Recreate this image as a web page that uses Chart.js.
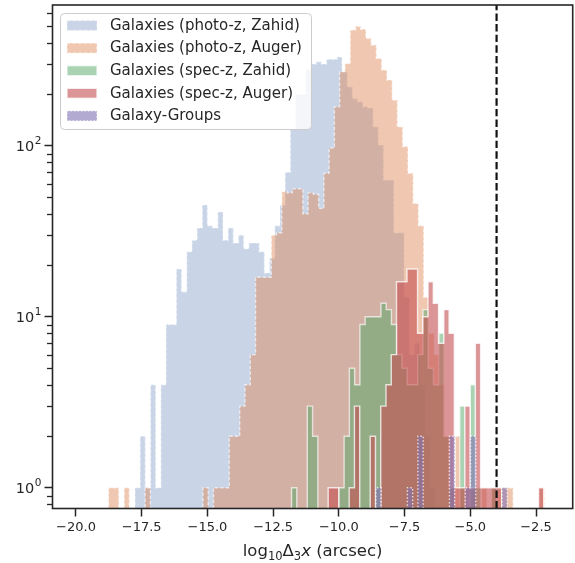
<!DOCTYPE html>
<html><head><meta charset="utf-8">
<script src="https://cdn.jsdelivr.net/npm/chart.js@4/dist/chart.umd.min.js"></script>
<style>html,body{margin:0;padding:0;background:#fff;}canvas{display:block;}</style>
</head><body>
<canvas id="c" width="575" height="563"></canvas>
<script>
// ---------------- data ----------------
const xTicks = [-20, -17.5, -15, -12.5, -10, -7.5, -5, -2.5];
const yTicks = [1, 10, 100];
const yTickExponents = ['0', '1', '2'];
// x-axis title pieces: [text, style] (style: n = normal, s = subscript, i = italic)
const xAxisTitleParts = [['log', 'n'], ['10', 's'], ['\u0394', 'n'], ['3', 's'], ['x', 'i'], [' (arcsec)', 'n']];
const seriesLabels = ['Galaxies (photo-z, Zahid)', 'Galaxies (photo-z, Auger)',
  'Galaxies (spec-z, Zahid)', 'Galaxies (spec-z, Auger)', 'Galaxy-Groups'];

const photoZahidStart = -17.757, photoZahidWidth = 0.197;
const photoZahidCounts = [1,2,1,4,1,4,9,9,19,14,24,28,33,45,34,33,41,28,33,27,30,25,27,27,24,
  18,22,34,45,70,125,200,200,280,300,310,300,320,320,330,271,221,189,181,169,166,129,101,63,63,
  31,31,13,6,7,4,2,1];

const photoAugerStart = -18.77, photoAugerWidth = 0.2;
const photoAugerCounts = [1,1,0,1,0,0,0,1,0,0,0,0,0,0,0,0,0,0,1,0,1,1,1,2,2,3,4,6,17,17,17,30,31,
  54,53,56,56,40,53,52,43,69,97,169,271,302,475,500,480,425,388,324,277,242,185,129,99,69,46,34,
  13,8,6,4,2,1,2,1,1,1,0,1,0,1,1,1,1,0,0,0,0,0,1];

const specZahidStart = -11.80, specZahidWidth = 0.2;
const specZahidCounts = [1,0,0,3,2,0,0,0,0,1,2,5,4,9,10,10,10,12,11,9,6,5,4,4,6,11,5,4,8,2,1,0,3,0,4,1,0,0,1];

const specAugerStart = -10.407, specAugerWidth = 0.2;
const specAugerCounts = [1,1,0,0,1,3,0,0,2,0,3,4,6,16,16,19,19,8,10,16,12,7,11,8,1,1,3,1,7,1,1,1,1,0,0,0,0,0,0,0,1];

const groupStart = -8.593, groupWidth = 0.2;
const groupCounts = [1,0,0,0,0,0,1,0,2,0,0,0,0,0,2,0,0,1,2,0,0,0,0,0,1];

const refLineX = -4;
const X_MIN = -20.894, X_MAX = -1.104, Y_MIN = 0.756, Y_MAX = 665;

// ------------- helpers -------------
const LOW = 0.01;
function stepPoints(start, width, counts) {
  const pts = [{x: start, y: LOW}];
  counts.forEach((c, i) => pts.push({x: start + i * width, y: c > 0 ? c : LOW}));
  pts.push({x: start + counts.length * width, y: LOW});
  return pts;
}
function histDataset(label, start, width, counts, rgb, alpha, dash, order) {
  return {
    label, data: stepPoints(start, width, counts),
    stepped: 'before', fill: 'start', tension: 0, pointRadius: 0,
    backgroundColor: `rgba(${rgb},${alpha})`,
    borderColor: `rgba(255,255,255,${Math.min(0.9, alpha + 0.15)})`,
    borderWidth: 1.4, borderDash: dash, order, inLegend: true
  };
}

const INK = '#262626';
const FONT = '"DejaVu Sans"';
Chart.defaults.font.family = 'DejaVu Sans';
Chart.defaults.color = INK;

const framePlugin = {
  id: 'frame',
  afterDatasetsDraw(chart) {
    const {ctx, chartArea: a} = chart;
    const y = chart.scales.y;
    ctx.save();
    ctx.strokeStyle = INK;
    ctx.lineWidth = 1.3;
    for (let d = -1; d <= 3; d++) {
      for (let m = 2; m <= 9; m++) {
        const v = m * Math.pow(10, d);
        if (v < y.min || v > y.max) continue;
        const py = Math.round(y.getPixelForValue(v)) + 0.5;
        ctx.beginPath(); ctx.moveTo(a.left - 5.5, py); ctx.lineTo(a.left, py); ctx.stroke();
      }
    }
    ctx.lineWidth = 1.6;
    ctx.strokeRect(a.left, a.top, a.right - a.left, a.bottom - a.top);
    ctx.restore();
  }
};

const textPlugin = {
  id: 'mathText',
  afterDraw(chart) {
    const {ctx, chartArea: a} = chart;
    const y = chart.scales.y;
    ctx.save();
    ctx.fillStyle = INK;
    ctx.textBaseline = 'alphabetic';
    // y tick labels 10^n
    yTicks.forEach((v, i) => {
      const py = y.getPixelForValue(v);
      const right = a.left - 11;
      ctx.font = `10.5px ${FONT}`;
      const ws = ctx.measureText(yTickExponents[i]).width;
      ctx.textAlign = 'left';
      ctx.fillText(yTickExponents[i], right - ws, py - 1.5);
      ctx.font = `14.5px ${FONT}`;
      ctx.textAlign = 'right';
      ctx.fillText('10', right - ws - 0.5, py + 5.2);
    });
    // x axis title
    const size = 16.5, sub = 11.5;
    const fontFor = st => st === 's' ? `${sub}px ${FONT}` : st === 'i' ? `italic ${size}px ${FONT}` : `${size}px ${FONT}`;
    let total = 0;
    xAxisTitleParts.forEach(([t, st]) => { ctx.font = fontFor(st); total += ctx.measureText(t).width; });
    let x = (a.left + a.right) / 2 - total / 2;
    const base = 556;
    ctx.textAlign = 'left';
    xAxisTitleParts.forEach(([t, st]) => {
      ctx.font = fontFor(st);
      ctx.fillText(t, x, st === 's' ? base + 3.5 : base);
      x += ctx.measureText(t).width;
    });
    ctx.restore();
  }
};

const legendPlugin = {
  id: 'mplLegend',
  afterDraw(chart) {
    const ctx = chart.ctx;
    const x0 = 60.5, y0 = 13.5, w = 251, h = 116, r = 4;
    ctx.save();
    ctx.beginPath();
    ctx.moveTo(x0 + r, y0); ctx.lineTo(x0 + w - r, y0); ctx.arcTo(x0 + w, y0, x0 + w, y0 + r, r);
    ctx.lineTo(x0 + w, y0 + h - r); ctx.arcTo(x0 + w, y0 + h, x0 + w - r, y0 + h, r);
    ctx.lineTo(x0 + r, y0 + h); ctx.arcTo(x0, y0 + h, x0, y0 + h - r, r);
    ctx.lineTo(x0, y0 + r); ctx.arcTo(x0, y0, x0 + r, y0, r); ctx.closePath();
    ctx.fillStyle = 'rgba(255,255,255,0.8)'; ctx.fill();
    ctx.strokeStyle = '#cccccc'; ctx.lineWidth = 1; ctx.stroke();
    const items = chart.data.datasets.filter(d => d.inLegend);
    ctx.font = `15px ${FONT}`;
    ctx.textBaseline = 'middle';
    items.forEach((ds, i) => {
      const cy = 25.5 + i * 22.6;
      ctx.fillStyle = ds.backgroundColor;
      ctx.fillRect(67, cy - 5, 30, 10);
      ctx.setLineDash(ds.borderDash || []);
      ctx.strokeStyle = ds.borderColor; ctx.lineWidth = 1.4;
      ctx.strokeRect(67, cy - 5, 30, 10);
      ctx.setLineDash([]);
      ctx.fillStyle = INK;
      ctx.fillText(ds.label, 110, cy + 0.5);
    });
    ctx.restore();
  }
};

new Chart(document.getElementById('c'), {
  type: 'line',
  data: {
    datasets: [
      histDataset(seriesLabels[0], photoZahidStart, photoZahidWidth, photoZahidCounts, '76,114,176', 0.3, [3.5, 2], 6),
      histDataset(seriesLabels[1], photoAugerStart, photoAugerWidth, photoAugerCounts, '221,132,82', 0.45, [3.5, 2], 5),
      histDataset(seriesLabels[2], specZahidStart, specZahidWidth, specZahidCounts, '85,168,104', 0.5, [], 4),
      histDataset(seriesLabels[3], specAugerStart, specAugerWidth, specAugerCounts, '196,78,82', 0.6, [], 3),
      histDataset(seriesLabels[4], groupStart, groupWidth, groupCounts, '129,114,179', 0.6, [1.5, 2], 2),
      {
        label: 'ref', data: [{x: refLineX, y: Y_MIN}, {x: refLineX, y: Y_MAX}],
        borderColor: '#111', borderWidth: 2.2, borderDash: [7.4, 3.2], pointRadius: 0,
        fill: false, order: 1, inLegend: false
      }
    ]
  },
  options: {
    responsive: false, animation: false,
    layout: {padding: {top: 5, right: 2.3, left: 0, bottom: 0}},
    plugins: {legend: {display: false}, tooltip: {enabled: false}},
    scales: {
      x: {
        type: 'linear', min: X_MIN, max: X_MAX,
        afterBuildTicks: s => { s.ticks = xTicks.map(v => ({value: v})); },
        afterFit: s => { s.height = 54.5; },
        ticks: {
          font: {size: 13}, color: INK, padding: 3, maxRotation: 0,
          callback: v => (v < 0 ? '\u2212' : '') + Math.abs(v).toFixed(1)
        },
        grid: {display: true, drawOnChartArea: false, drawTicks: true, tickLength: 8, tickWidth: 1.5, tickColor: INK},
        border: {display: false},
        title: {display: false}
      },
      y: {
        type: 'logarithmic', min: Y_MIN, max: Y_MAX,
        afterBuildTicks: s => { s.ticks = yTicks.map(v => ({value: v})); },
        afterFit: s => { s.width = 52.5; },
        ticks: {display: false},
        grid: {display: true, drawOnChartArea: false, drawTicks: true, tickLength: 8, tickWidth: 1.5, tickColor: INK},
        border: {display: false}
      }
    }
  },
  plugins: [framePlugin, textPlugin, legendPlugin]
});
</script>
</body></html>
